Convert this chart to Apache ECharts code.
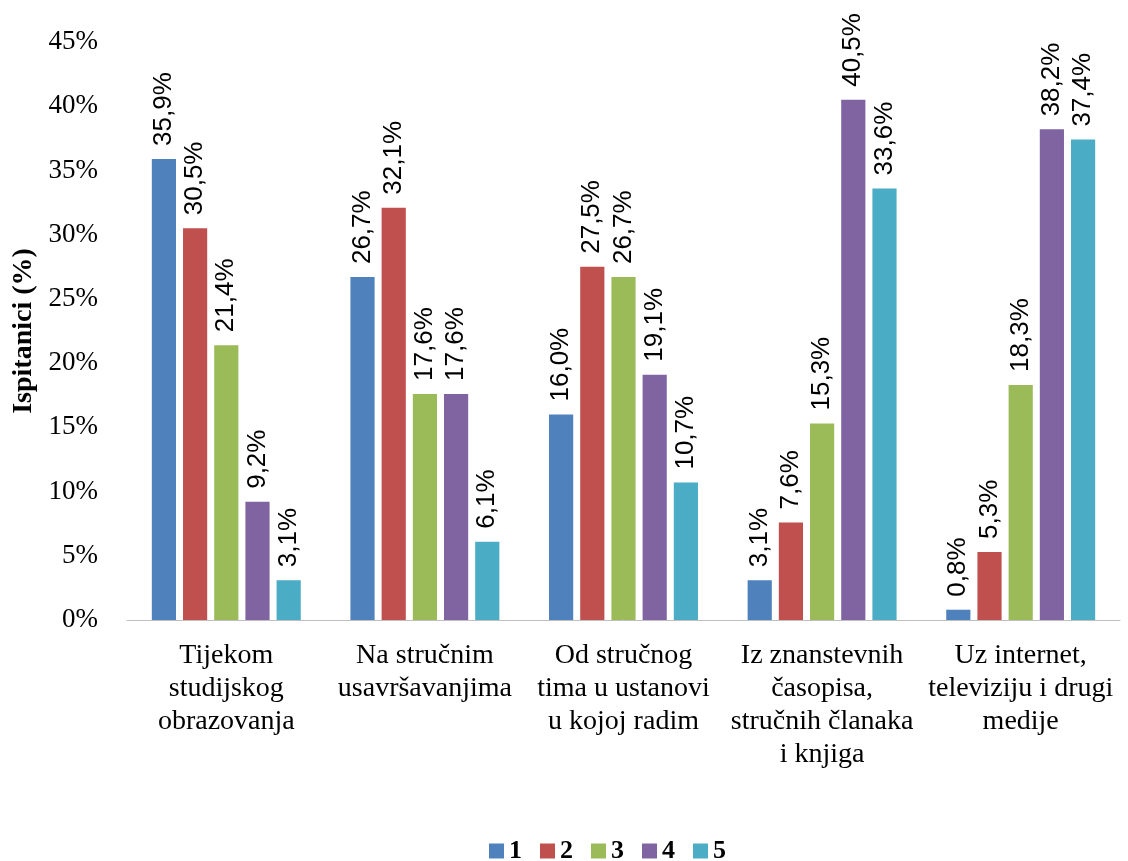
<!DOCTYPE html>
<html><head><meta charset="utf-8">
<script src="https://cdn.jsdelivr.net/npm/echarts@6/dist/echarts.min.js"></script>
<style>html,body{margin:0;padding:0;background:#fff}#c{width:1128px;height:861px}</style>
</head><body><div id="c"></div>
<script>
const categories = ["Tijekom\nstudijskog\nobrazovanja", "Na stručnim\nusavršavanjima", "Od stručnog\ntima u ustanovi\nu kojoj radim", "Iz znanstevnih\nčasopisa,\nstručnih članaka\ni knjiga", "Uz internet,\nteleviziju i drugi\nmedije"];
const seriesNames = ["1", "2", "3", "4", "5"];
const s1 = [35.9, 26.7, 16.0, 3.1, 0.8];
const s2 = [30.5, 32.1, 27.5, 7.6, 5.3];
const s3 = [21.4, 17.6, 26.7, 15.3, 18.3];
const s4 = [9.2, 17.6, 19.1, 40.5, 38.2];
const s5 = [3.1, 6.1, 10.7, 33.6, 37.4];
const colors = ["#4F81BD", "#C0504D", "#9BBB59", "#8064A2", "#4BACC6"];
const values = [s1, s2, s3, s4, s5];

const chart = echarts.init(document.getElementById('c'));
chart.setOption({
  animation: false,
  color: colors,
  grid: {left: 127, right: 8, top: 42, bottom: 241},
  legend: {
    top: 833, left: 484, itemWidth: 15, itemHeight: 15, itemGap: 18,
    icon: 'rect',
    textStyle: {fontFamily: 'Liberation Serif', fontWeight: 'bold', fontSize: 26, color: '#000'}
  },
  xAxis: {
    type: 'category', data: categories,
    axisLine: {lineStyle: {color: '#BFBFBF', width: 1}},
    axisTick: {show: false},
    axisLabel: {interval: 0, fontFamily: 'Liberation Serif', fontSize: 28, color: '#000', lineHeight: 33, margin: 19}
  },
  yAxis: {
    type: 'value', min: 0, max: 45, interval: 5,
    name: 'Ispitanici (%)', nameLocation: 'middle', nameGap: 86,
    nameTextStyle: {fontFamily: 'Liberation Serif', fontWeight: 'bold', fontSize: 28, color: '#000'},
    axisLine: {show: false}, axisTick: {show: false}, splitLine: {show: false},
    axisLabel: {formatter: '{value}%', fontFamily: 'Liberation Serif', fontSize: 27, color: '#000', margin: 29}
  },
  series: values.map((v, i) => ({
    name: seriesNames[i], type: 'bar', data: v,
    barGap: '29%', barCategoryGap: '25%',
    label: {
      show: true, position: 'top', rotate: 90, align: 'left', verticalAlign: 'middle', distance: 13,
      fontFamily: 'Liberation Sans', fontSize: 26, color: '#000',
      formatter: p => p.value.toFixed(1).replace('.', ',') + '%'
    }
  }))
});
</script></body></html>
